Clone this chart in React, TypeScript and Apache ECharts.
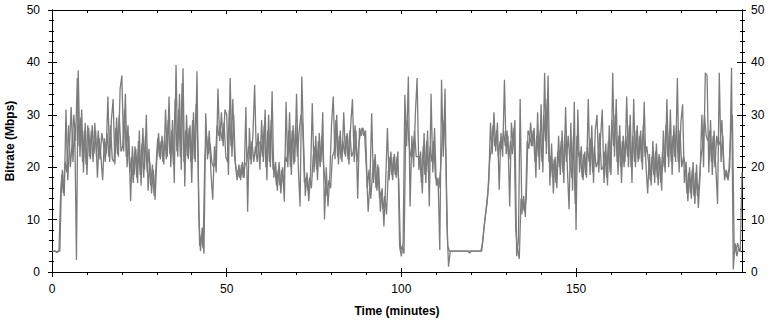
import React, { useEffect, useRef } from "react";
import * as echarts from "echarts";

// Sampling step of each reading list (minutes between consecutive readings)
const STEP_MINUTES = 0.5;
// The second reading list is taken half a step later than the first
const OFFSET_B = 0.25;

// Bitrate readings (Mbps) at 0, 0.5, 1, ... minutes, in 10-minute chunks
const bitrateA000 = [4, 4, 4, 3.7, 4, 15.5, 19.5, 14.5, 31, 17.5, 24, 31.5, 21, 28.5, 2.3, 38.5, 22, 31, 19, 28.5];
const bitrateA010 = [18.5, 27.5, 21.5, 28, 22.5, 27, 18, 25.5, 22, 17.5, 25.5, 22.5, 33.5, 21, 29, 33, 20.5, 29.5, 22, 35];
const bitrateA020 = [37.5, 23, 34, 20, 26, 13.5, 24, 18.5, 23.5, 17, 27, 16.5, 27.5, 19.5, 30, 15.5, 21, 15, 19.5, 13.8];
const bitrateA030 = [21.5, 26.5, 21.5, 26, 20.5, 31, 22, 33.5, 20, 29, 17, 39.5, 22, 34, 19.5, 38.9, 16.3, 30, 21.5, 28];
const bitrateA040 = [17, 30.5, 21, 38.3, 11, 4, 8.5, 3.5, 30.3, 21.5, 27, 19, 13.8, 24, 19, 35, 25, 30.5, 24, 31];
const bitrateA050 = [30, 18.5, 37, 22, 30, 20.5, 17.5, 20.5, 17.5, 21, 18, 31.5, 11.5, 27.5, 20.5, 26, 35.7, 22, 26.5, 19.5];
const bitrateA060 = [29, 21, 31, 17.5, 30, 20, 34.5, 18, 21, 15.5, 21, 15, 20, 13.4, 32.5, 20, 30.5, 18.5, 28, 21];
const bitrateA070 = [34, 20, 12.5, 37.3, 25, 14.5, 19, 13.5, 18.5, 32.2, 19, 26, 17.5, 26.5, 21, 30.5, 10, 20, 12.5, 18];
const bitrateA080 = [28, 33.5, 21.5, 30, 20.5, 27, 21, 30.5, 22, 26.5, 20.5, 28, 33, 21, 27, 14, 27.5, 26, 27.5, 26];
const bitrateA090 = [19.5, 11.5, 17, 30.3, 17, 22.5, 15.5, 20, 11.5, 16, 8.7, 17, 27.5, 17.5, 23, 17.5, 22.5, 18, 23, 5];
const bitrateA100 = [3, 5.5, 33.8, 24, 37.3, 12.5, 26, 20, 30, 37, 19.5, 23, 15, 26.5, 17, 27, 12.5, 34, 19, 27.5];
const bitrateA110 = [16.5, 18, 4.2, 36.7, 22, 35, 10, 1, 4, 4, 4, 4, 4, 4, 4, 4, 4, 4, 4, 3.6];
const bitrateA120 = [4, 4, 4, 4, 4, 4, 4, 7.5, 10.5, 13, 17, 28.5, 22.5, 30.5, 23, 28.5, 15.7, 26.5, 22, 36.7];
const bitrateA130 = [22.5, 26, 12.5, 28.5, 24, 29, 3, 6, 33, 11, 14.5, 10.5, 25, 23.5, 28.5, 24, 27.5, 18, 30.5, 19.5];
const bitrateA140 = [32, 19, 38, 22.5, 37.5, 16.5, 24.5, 15, 22, 16, 26, 18.5, 27, 17, 31.5, 20, 12, 28.5, 15.5, 32.5];
const bitrateA150 = [8, 31, 19, 24, 17.5, 23, 18, 33, 18.5, 28, 17, 27, 30, 19, 25.5, 31, 17, 24.5, 16.5, 28];
const bitrateA160 = [18.5, 38, 22, 33, 18.5, 28, 17, 26, 21, 33.5, 20, 30, 17, 33, 20, 28, 21.5, 27, 19.5, 32.5];
const bitrateA170 = [20.5, 15, 22.5, 16.5, 25, 17, 24.5, 16.5, 22, 15.5, 27, 19, 33, 20, 31, 18.5, 28, 21, 37, 19];
const bitrateA180 = [28.5, 32, 17, 21, 13.5, 20, 14, 21, 13, 20.5, 12.2, 18.5, 30, 20, 38, 37.5, 19, 29, 18.5, 27];
const bitrateA190 = [20, 13, 38, 21, 26, 17.5, 19.5, 17.5, 20, 39, 0.5, 5.5, 3, 4.5, 4, 19];

// Bitrate readings (Mbps) at 0.25, 0.75, 1.25, ... minutes, in 10-minute chunks
const bitrateB000 = [4, 4, 3.8, 4, 4, 18.5, 15, 21, 19, 28, 20, 24.5, 30, 25, 37, 24, 29.5, 21, 27, 20.5];
const bitrateB010 = [28, 22, 27, 21, 28.5, 22, 27, 21.5, 26.5, 24.5, 21, 26.5, 22, 28, 21.5, 21, 27.5, 22.5, 30, 23];
const bitrateB020 = [24, 31, 22, 28, 19, 22, 17, 24, 18, 25, 18.5, 24.5, 18, 26, 19, 23.5, 16.5, 20.5, 14.5, 20];
const bitrateB030 = [25.5, 22, 25, 21, 26, 21.5, 29, 22.5, 27, 20.5, 33, 23, 31, 22, 36, 21, 27, 22, 27.5, 21];
const bitrateB040 = [29, 21.5, 32, 24, 5, 7, 4.5, 22, 26, 22.5, 24.5, 21, 20, 21, 28, 26, 27, 25, 28.5, 22];
const bitrateB050 = [21, 31, 24, 33, 22, 19.5, 19, 18, 20.5, 18, 20.5, 21, 24, 21.5, 25, 21, 24, 21, 24.5, 25];
const bitrateB060 = [22, 28, 20, 27, 21, 29, 19.5, 20, 16.5, 19.5, 16.5, 19.5, 17, 22, 21, 27, 20, 27, 20.5, 28];
const bitrateB070 = [22, 27, 30, 28, 17, 18, 15.5, 18, 16, 22, 24, 19.5, 25, 20, 26, 20, 17, 14.5, 17.5, 16];
const bitrateB080 = [22, 23, 29, 22, 26, 21.5, 25, 22.5, 26, 21.5, 27, 22, 23, 28, 21, 24, 26.5, 27.5, 26, 27];
const bitrateB090 = [16, 19.5, 14, 19, 21.5, 16, 20.5, 14, 15.5, 12, 14.5, 11, 19, 22, 18.5, 22, 18.5, 22, 17.5, 4];
const bitrateB100 = [5, 3.5, 27, 29, 24, 22, 22, 27, 22, 22, 22, 17, 24, 18.5, 25, 19, 24, 21, 25, 18];
const bitrateB110 = [17.5, 16, 20, 26, 29, 22, 5, 4, 4, 4, 4, 4, 4, 4, 4, 4, 4, 4, 4, 4];
const bitrateB120 = [4, 4, 4, 4, 4, 4, 5.5, 9, 12, 15, 21, 24, 28, 24, 27, 22, 25, 23.5, 27, 24];
const bitrateB130 = [27, 21.5, 25, 22.5, 27.5, 8, 4.5, 2.5, 14, 13, 11.5, 14, 27, 26, 24, 27, 21, 26, 22, 27];
const bitrateB140 = [21, 30, 25, 33, 21, 22, 18, 21.5, 17, 23, 20, 25, 19, 26, 21, 26, 21, 18, 26, 13];
const bitrateB150 = [26, 22, 23, 18, 22.5, 18.5, 24, 21, 25.5, 19, 24, 20, 21, 26.5, 19.5, 20, 23, 18, 25, 19];
const bitrateB160 = [29, 24, 30, 21, 26, 20, 25, 20, 26, 22, 28, 20, 26, 21, 27, 21, 26, 21, 28, 22];
const bitrateB170 = [24, 21, 17.5, 22, 18.5, 23, 18, 22.5, 17, 23, 20, 28, 22, 27, 21, 26, 22, 28, 21, 27];
const bitrateB180 = [20, 22, 20.5, 15, 19, 15, 19.5, 14.5, 19, 14.5, 17, 22, 24, 30, 26, 25, 27, 21, 26, 20];
const bitrateB190 = [26, 24, 25, 29, 20, 19, 18, 19.5, 26, 30, 4.5, 4, 5.5, 4, 4];

const bitrateA = [
  ...bitrateA000, ...bitrateA010, ...bitrateA020, ...bitrateA030, ...bitrateA040,
  ...bitrateA050, ...bitrateA060, ...bitrateA070, ...bitrateA080, ...bitrateA090,
  ...bitrateA100, ...bitrateA110, ...bitrateA120, ...bitrateA130, ...bitrateA140,
  ...bitrateA150, ...bitrateA160, ...bitrateA170, ...bitrateA180, ...bitrateA190,
];
const bitrateB = [
  ...bitrateB000, ...bitrateB010, ...bitrateB020, ...bitrateB030, ...bitrateB040,
  ...bitrateB050, ...bitrateB060, ...bitrateB070, ...bitrateB080, ...bitrateB090,
  ...bitrateB100, ...bitrateB110, ...bitrateB120, ...bitrateB130, ...bitrateB140,
  ...bitrateB150, ...bitrateB160, ...bitrateB170, ...bitrateB180, ...bitrateB190,
];
const timeA = bitrateA.map((_, i) => i * STEP_MINUTES);
const timeB = bitrateB.map((_, i) => i * STEP_MINUTES + OFFSET_B);

// Axis ranges and ticks
const X_MIN = 0;
const X_MAX = 197.5;
const xMajorTicks = [0, 50, 100, 150];
const xMinorTicks = [10, 20, 30, 40, 60, 70, 80, 90, 110, 120, 130, 140, 160, 170, 180, 190];
const Y_MIN = 0;
const Y_MAX = 50;
const Y_INTERVAL = 10;

const FONT = "'Liberation Sans', Arial, sans-serif";
const BLACK = "#000000";
const LINE_GREY = "#7c7c7c";

export default function App() {
  const ref = useRef<HTMLDivElement>(null);

  useEffect(() => {
    if (!ref.current) return;
    const chart = echarts.init(ref.current, null, { renderer: "svg" });

    const xBase = {
      type: "value" as const,
      min: X_MIN,
      max: X_MAX,
      splitLine: { show: false },
      axisLine: { show: true, onZero: false, lineStyle: { color: BLACK, width: 1 } },
    };
    const yBase = {
      type: "value" as const,
      min: Y_MIN,
      max: Y_MAX,
      interval: Y_INTERVAL,
      splitLine: { show: false },
      axisLine: { show: true, onZero: false, lineStyle: { color: BLACK, width: 1 } },
    };
    const labelStyle = { color: BLACK, fontSize: 12, fontFamily: FONT };
    const nameStyle = { color: BLACK, fontSize: 12, fontWeight: "bold" as const, fontFamily: FONT };

    const lineSeries = (times: number[], values: number[]) => ({
      type: "line" as const,
      xAxisIndex: 0,
      yAxisIndex: 0,
      data: times.map((t, i) => [t, values[i]]),
      showSymbol: false,
      symbol: "none",
      lineStyle: { color: LINE_GREY, width: 1.3 },
      silent: true,
    });

    chart.setOption({
      animation: false,
      backgroundColor: "#ffffff",
      grid: {
        left: 52,
        right: 31,
        top: 10,
        bottom: 48,
        containLabel: false,
        outerBoundsMode: "none",
      },
      xAxis: [
        {
          ...xBase,
          position: "bottom",
          name: "Time (minutes)",
          nameLocation: "middle",
          nameGap: 33,
          nameTextStyle: nameStyle,
          axisTick: { show: true, customValues: xMajorTicks, length: 5, lineStyle: { color: BLACK } },
          axisLabel: { show: true, customValues: xMajorTicks, margin: 11, ...labelStyle },
        },
        {
          ...xBase,
          position: "bottom",
          axisTick: { show: true, inside: true, customValues: xMajorTicks, length: 4, lineStyle: { color: BLACK } },
          axisLabel: { show: false },
        },
        {
          ...xBase,
          position: "bottom",
          axisTick: { show: true, customValues: xMinorTicks, length: 3, lineStyle: { color: BLACK } },
          axisLabel: { show: false },
        },
        {
          ...xBase,
          position: "top",
          axisTick: { show: true, inside: true, customValues: xMajorTicks, length: 4, lineStyle: { color: BLACK } },
          axisLabel: { show: false },
        },
        {
          ...xBase,
          position: "top",
          axisTick: { show: true, inside: true, customValues: xMinorTicks, length: 3, lineStyle: { color: BLACK } },
          axisLabel: { show: false },
        },
      ],
      yAxis: [
        {
          ...yBase,
          position: "left",
          name: "Bitrate (Mbps)",
          nameLocation: "middle",
          nameGap: 35,
          nameTextStyle: nameStyle,
          axisTick: { show: true, length: 4, lineStyle: { color: BLACK } },
          minorTick: { show: true, splitNumber: 5, length: 3, lineStyle: { color: BLACK } },
          axisLabel: { show: true, margin: 12, ...labelStyle },
        },
        {
          ...yBase,
          position: "left",
          axisTick: { show: true, inside: true, length: 5, lineStyle: { color: BLACK } },
          minorTick: { show: true, splitNumber: 5, length: 2, lineStyle: { color: BLACK } },
          axisLabel: { show: false },
        },
        {
          ...yBase,
          position: "right",
          axisTick: { show: true, length: 4, lineStyle: { color: BLACK } },
          minorTick: { show: true, splitNumber: 5, length: 3, lineStyle: { color: BLACK } },
          axisLabel: { show: true, margin: 9, ...labelStyle },
        },
        {
          ...yBase,
          position: "right",
          axisTick: { show: true, inside: true, length: 5, lineStyle: { color: BLACK } },
          minorTick: { show: true, splitNumber: 5, length: 2, lineStyle: { color: BLACK } },
          axisLabel: { show: false },
        },
      ],
      series: [lineSeries(timeA, bitrateA), lineSeries(timeB, bitrateB)],
    });

    return () => chart.dispose();
  }, []);

  return (
    <div
      ref={ref}
      style={{ position: "absolute", left: 0, top: 0, width: 773, height: 320 }}
    />
  );
}
